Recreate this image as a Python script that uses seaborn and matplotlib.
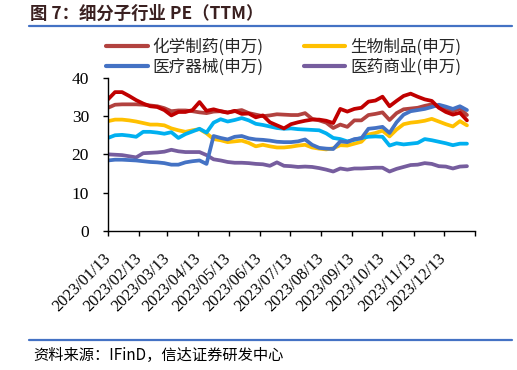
import matplotlib
matplotlib.use("Agg")
import matplotlib.pyplot as plt
from matplotlib.lines import Line2D
import seaborn as sns
import pandas as pd

# ---------------- data ----------------
dates = pd.date_range("2023-01-13", periods=52, freq="7D")

chem_pharma = [32.2, 33.0, 33.1, 33.1, 33.1, 33.0, 32.8, 32.6, 32.1, 31.3, 31.5, 31.5, 31.3,
               31.0, 30.8, 31.2, 31.3, 31.0, 31.3, 31.6, 30.8, 30.4, 30.0, 30.2, 30.5, 30.4,
               30.3, 30.3, 30.8, 29.3, 28.9, 28.3, 26.9, 27.8, 27.2, 28.9, 28.9, 30.3, 30.6,
               31.0, 29.0, 30.8, 31.8, 32.0, 32.2, 32.7, 33.1, 32.5, 31.8, 31.3, 32.0, 30.3]
bio_products = [28.7, 29.1, 29.1, 28.9, 28.6, 28.2, 27.8, 27.8, 27.6, 26.8, 26.3, 25.9, 26.3,
                26.6, 25.5, 24.0, 23.7, 23.2, 23.4, 23.6, 23.0, 22.1, 22.5, 22.1, 21.8, 21.8,
                22.0, 22.3, 22.5, 21.8, 21.5, 21.3, 21.6, 22.4, 22.3, 22.8, 23.3, 25.2, 25.6,
                26.2, 24.7, 26.5, 27.9, 28.3, 28.5, 28.8, 29.3, 28.6, 27.9, 27.3, 28.7, 27.6]
med_devices = [18.4, 18.6, 18.6, 18.5, 18.4, 18.2, 18.0, 17.9, 17.7, 17.3, 17.3, 17.9, 18.2,
               18.4, 17.5, 24.8, 24.3, 23.9, 24.6, 24.8, 24.2, 23.9, 23.8, 23.6, 23.3, 23.2,
               23.2, 23.4, 23.9, 22.5, 21.7, 21.5, 21.4, 23.4, 23.2, 24.0, 24.2, 26.7, 26.9,
               27.2, 25.6, 28.4, 30.4, 31.3, 31.6, 31.9, 32.4, 33.0, 32.5, 31.9, 32.6, 31.6]
med_commerce = [20.0, 19.9, 19.8, 19.5, 19.2, 20.3, 20.4, 20.5, 20.7, 21.2, 20.8, 20.6, 20.6,
                20.6, 19.8, 18.7, 18.4, 18.0, 17.8, 17.8, 17.7, 17.5, 17.4, 17.0, 17.9, 17.0,
                16.9, 16.7, 16.8, 16.7, 16.4, 16.0, 15.5, 16.3, 16.0, 16.3, 16.3, 16.4, 16.5,
                16.5, 15.5, 16.2, 16.7, 17.2, 17.3, 17.7, 17.5, 16.9, 16.8, 16.3, 16.8, 16.9]
# unlabeled series (no legend entry in the reference)
series_red = [34.4, 36.3, 36.3, 35.3, 34.2, 33.3, 32.6, 32.4, 31.6, 30.2, 31.1, 31.1, 31.6,
              33.7, 31.4, 31.8, 31.3, 30.9, 31.4, 30.6, 30.7, 29.7, 30.2, 28.4, 27.6, 26.8,
              27.9, 28.4, 28.8, 29.1, 29.1, 28.8, 28.2, 31.9, 31.2, 31.9, 32.2, 33.8, 34.1,
              35.1, 32.6, 34.0, 35.3, 35.9, 35.1, 34.4, 34.0, 32.2, 31.1, 30.4, 30.9, 28.9]
series_cyan = [24.3, 25.0, 25.1, 24.9, 24.6, 25.9, 25.9, 25.7, 25.4, 25.8, 24.3, 25.3, 26.0,
               26.7, 25.7, 28.3, 29.2, 28.6, 29.0, 29.5, 28.9, 28.0, 27.7, 27.3, 26.9, 26.7,
               26.8, 26.6, 26.5, 26.4, 26.3, 25.5, 24.3, 24.0, 23.4, 23.8, 24.3, 24.6, 24.7,
               24.6, 22.3, 22.9, 22.6, 22.8, 23.0, 24.0, 23.7, 23.3, 22.9, 22.4, 22.8, 22.8]

legend_labels = ["化学制药(申万)", "生物制品(申万)", "医疗器械(申万)", "医药商业(申万)"]
xtick_labels = ["2023/01/13", "2023/02/13", "2023/03/13", "2023/04/13", "2023/05/13",
                "2023/06/13", "2023/07/13", "2023/08/13", "2023/09/13", "2023/10/13",
                "2023/11/13", "2023/12/13", ""]
yticks = [0, 10, 20, 30, 40]
title_text = "图 7：细分子行业 PE（TTM）"
source_text = "资料来源：IFinD，信达证券研发中心"

# ---------------- style ----------------
sns.set_theme(style="white")
CJK = ["Noto Sans CJK SC", "DejaVu Sans"]
plt.rcParams["font.family"] = CJK

W, H = 517, 370
fig = plt.figure(figsize=(W / 100, H / 100), dpi=100)
fig.patch.set_facecolor("white")
ax = fig.add_axes([108 / W, 1 - 230.7 / H, (475 - 108) / W, (230.7 - 78) / H])
ax.set_facecolor("white")

LW = 2.7
colors = {
    "chem": "#B2423F",
    "bio": "#FFC000",
    "dev": "#4472C4",
    "com": "#765D9E",
    "red": "#C00000",
    "cyan": "#00B0F0",
}

sns.lineplot(x=dates, y=med_commerce, ax=ax, color=colors["com"], lw=LW, label=legend_labels[3])
sns.lineplot(x=dates, y=bio_products, ax=ax, color=colors["bio"], lw=LW, label=legend_labels[1])
sns.lineplot(x=dates, y=chem_pharma, ax=ax, color=colors["chem"], lw=LW, label=legend_labels[0])
sns.lineplot(x=dates, y=series_cyan, ax=ax, color=colors["cyan"], lw=LW, label="_cyan")
sns.lineplot(x=dates, y=med_devices, ax=ax, color=colors["dev"], lw=LW, label=legend_labels[2])
sns.lineplot(x=dates, y=series_red, ax=ax, color=colors["red"], lw=LW, label="_red")

# axes
ax.set_ylim(0, 40)
ax.set_yticks(yticks)
ax.set_xlim(pd.Timestamp("2023-01-13"), pd.Timestamp("2024-01-13"))
xt = pd.date_range("2023-01-13", periods=13, freq=pd.DateOffset(months=1))
ax.set_xticks(xt)
ax.set_xticklabels(xtick_labels, rotation=45, ha="right", va="center",
                   rotation_mode="anchor", fontsize=11.8, family="Liberation Serif")
ax.set_yticklabels([str(v) for v in yticks], fontsize=12.5, family="Liberation Serif")
ax.set_xlabel("")
ax.set_ylabel("")
for s in ["top", "right"]:
    ax.spines[s].set_visible(False)
for s in ["left", "bottom"]:
    ax.spines[s].set_color("black")
    ax.spines[s].set_linewidth(1.0)
ax.tick_params(axis="both", direction="out", length=3.6, width=1.0, color="black",
               labelcolor="black")
ax.tick_params(axis="x", pad=15, bottom=True)
ax.tick_params(axis="y", pad=10, left=True)
ax.grid(False)

# legend
handles = [Line2D([], [], color=colors["chem"], lw=3.0),
           Line2D([], [], color=colors["dev"], lw=3.0),
           Line2D([], [], color=colors["bio"], lw=3.0),
           Line2D([], [], color=colors["com"], lw=3.0)]
labels = [legend_labels[0], legend_labels[2], legend_labels[1], legend_labels[3]]
ax.legend(handles, labels, loc="upper left", bbox_to_anchor=(106 / W, 1 - 38 / H),
          bbox_transform=fig.transFigure, ncol=2, frameon=False,
          handlelength=2.5, handletextpad=0.3, columnspacing=2.4, labelspacing=0.2,
          borderpad=0, borderaxespad=0, prop={"family": CJK, "size": 12})

# title, rules, source
fig.text(30 / W, 1 - 14 / H, title_text, fontsize=12.5, fontweight="bold",
         color="#3A2020", ha="left", va="center", family=CJK)
fig.add_artist(Line2D([29 / W, 512 / W], [1 - 26 / H] * 2, color="#4472C4", lw=1.6))
fig.add_artist(Line2D([29 / W, 512 / W], [1 - 340 / H] * 2, color="#4472C4", lw=1.6))
fig.text(33 / W, 1 - 355 / H, source_text, fontsize=11, color="black",
         ha="left", va="center", family=CJK)

fig.savefig("out.png", dpi=100, facecolor="white")
